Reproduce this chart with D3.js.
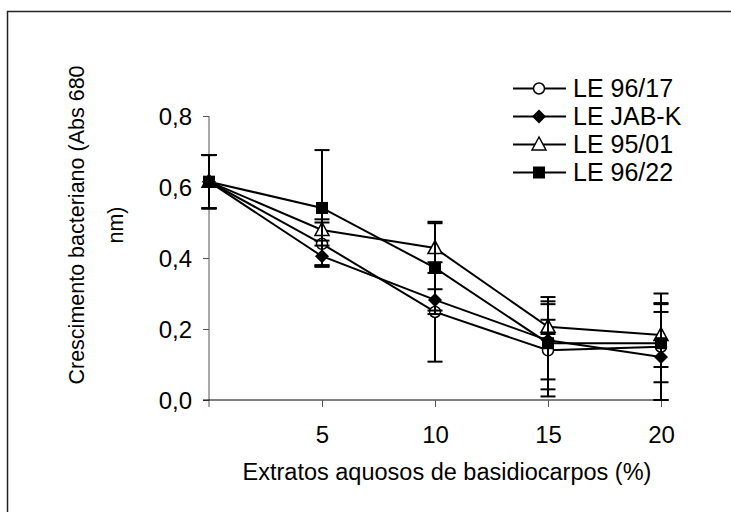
<!DOCTYPE html>
<meta charset="utf-8">
<script src="https://d3js.org/d3.v7.min.js"></script>
<style>
  body { margin: 0; background: #fff; }
  text { font-family: "Liberation Sans", Arial, sans-serif; fill: #000; }
</style>
<div id="chart"></div>
<script>

  // data
  var doses = [0, 5, 10, 15, 20];
  var xTicks = [5, 10, 15, 20];
  var yTicks = [0, 0.2, 0.4, 0.6, 0.8];
  var names = ["LE 96/17", "LE JAB-K", "LE 95/01", "LE 96/22"];
  var le9617 = [0.615, 0.44, 0.248, 0.14, 0.15];
  var le9617Err = [0.075, 0.06, 0.14, 0.13, 0.15];
  var jabk = [0.615, 0.405, 0.282, 0.168, 0.121];
  var jabkErr = [0.075, 0.03, 0.03, 0.11, 0.127];
  var le9501 = [0.615, 0.479, 0.428, 0.206, 0.183];
  var le9501Err = [0.075, 0.03, 0.07, 0.02, 0.09];
  var le9622 = [0.615, 0.541, 0.372, 0.16, 0.16];
  var le9622Err = [0.075, 0.163, 0.13, 0.13, 0.11];

  var seriesVals = [le9617, jabk, le9501, le9622];
  var seriesErrs = [le9617Err, jabkErr, le9501Err, le9622Err];
  var shapes = ["circle", "diamond", "triangle", "square"];

  var W = 731, H = 512;
  var svg = d3.select("#chart").append("svg")
      .attr("width", W)
      .attr("height", H);

  // outer frame (runs off the right and bottom edges)
  svg.append("rect")
      .attr("x", 7.5).attr("y", 11.5)
      .attr("width", 760).attr("height", 540)
      .attr("fill", "none")
      .attr("stroke", "#222")
      .attr("stroke-width", 1.5);

  var x = d3.scaleLinear().domain([0, 20]).range([209, 661]);
  var y = d3.scaleLinear().domain([0, 0.8]).range([400, 116]);

  var fmt = function(d) { return d3.format(".1f")(d).replace(".", ","); };

  // Y axis
  var yAxis = svg.append("g")
      .attr("transform", "translate(" + x(0) + ",0)")
      .call(d3.axisLeft(y).tickValues(yTicks).tickFormat(fmt).tickSize(6).tickPadding(11));
  yAxis.select(".domain").attr("d", "M0," + y(0.8) + "V" + (y(0) + 7)).attr("stroke", "#555");
  yAxis.selectAll(".tick line").attr("stroke", "#555");
  yAxis.selectAll("text").style("font-size", "24px").attr("dy", "0.35em");

  // X axis
  var xAxis = svg.append("g")
      .attr("transform", "translate(0," + y(0) + ")")
      .call(d3.axisBottom(x).tickValues(xTicks).tickSize(7));
  xAxis.select(".domain").attr("d", "M" + (x(0) - 6) + ",0H" + (x(20) + 4)).attr("stroke", "#000");
  xAxis.selectAll(".tick line").attr("stroke", "#555");
  xAxis.selectAll("text").style("font-size", "24px").attr("y", 43).attr("dy", 0);

  // axis titles
  svg.append("text")
      .attr("x", 447).attr("y", 480)
      .attr("text-anchor", "middle")
      .style("font-size", "23.5px")
      .text("Extratos aquosos de basidiocarpos (%)");

  var yt = svg.append("text")
      .attr("transform", "translate(0,225) rotate(-90)")
      .attr("text-anchor", "middle")
      .style("font-size", "21.5px");
  yt.append("tspan").attr("x", 0).attr("y", 84).text("Crescimento bacteriano (Abs 680");
  yt.append("tspan").attr("x", 0).attr("y", 123).text("nm)");

  // marker drawing
  function drawMarker(g, shape, cx, cy) {
    if (shape === "circle") {
      g.append("circle").attr("cx", cx).attr("cy", cy).attr("r", 5.5)
        .attr("fill", "#fff").attr("stroke", "#000").attr("stroke-width", 1.5);
    } else if (shape === "diamond") {
      g.append("path").attr("d", "M" + cx + "," + (cy - 7) + "L" + (cx + 7) + "," + cy +
        "L" + cx + "," + (cy + 7) + "L" + (cx - 7) + "," + cy + "Z").attr("fill", "#000");
    } else if (shape === "triangle") {
      g.append("path").attr("d", "M" + cx + "," + (cy - 7.5) + "L" + (cx + 7) + "," + (cy + 5.5) +
        "L" + (cx - 7) + "," + (cy + 5.5) + "Z")
        .attr("fill", "#fff").attr("stroke", "#000").attr("stroke-width", 1.5);
    } else {
      g.append("rect").attr("x", cx - 6).attr("y", cy - 6).attr("width", 12).attr("height", 12)
        .attr("fill", "#000");
    }
  }

  var line = d3.line()
      .x(function(d, i) { return x(doses[i]); })
      .y(function(d) { return y(d); });

  seriesVals.forEach(function(vals, s) {
    var g = svg.append("g");
    var errs = seriesErrs[s];
    // error bars
    vals.forEach(function(v, i) {
      var cx = x(doses[i]);
      var top = y(v + errs[i]), bot = y(Math.max(0, v - errs[i]));
      g.append("line").attr("x1", cx).attr("x2", cx).attr("y1", top).attr("y2", bot)
        .attr("stroke", "#000").attr("stroke-width", 2);
      [top, bot].forEach(function(yy) {
        g.append("line").attr("x1", cx - 7.5).attr("x2", cx + 7.5).attr("y1", yy).attr("y2", yy)
          .attr("stroke", "#000").attr("stroke-width", 2);
      });
    });
    g.append("path").datum(vals)
      .attr("d", line)
      .attr("fill", "none")
      .attr("stroke", "#000")
      .attr("stroke-width", 2);
    vals.forEach(function(v, i) { drawMarker(g, shapes[s], x(doses[i]), y(v)); });
  });

  // legend
  var leg = svg.append("g");
  names.forEach(function(n, i) {
    var ly = 88.5 + i * 28;
    leg.append("line").attr("x1", 513).attr("x2", 566).attr("y1", ly).attr("y2", ly)
      .attr("stroke", "#000").attr("stroke-width", 2);
    drawMarker(leg, shapes[i], 539, ly);
    leg.append("text").attr("x", 573).attr("y", ly).attr("dy", "0.35em")
      .style("font-size", "25px").text(n);
  });

</script>
